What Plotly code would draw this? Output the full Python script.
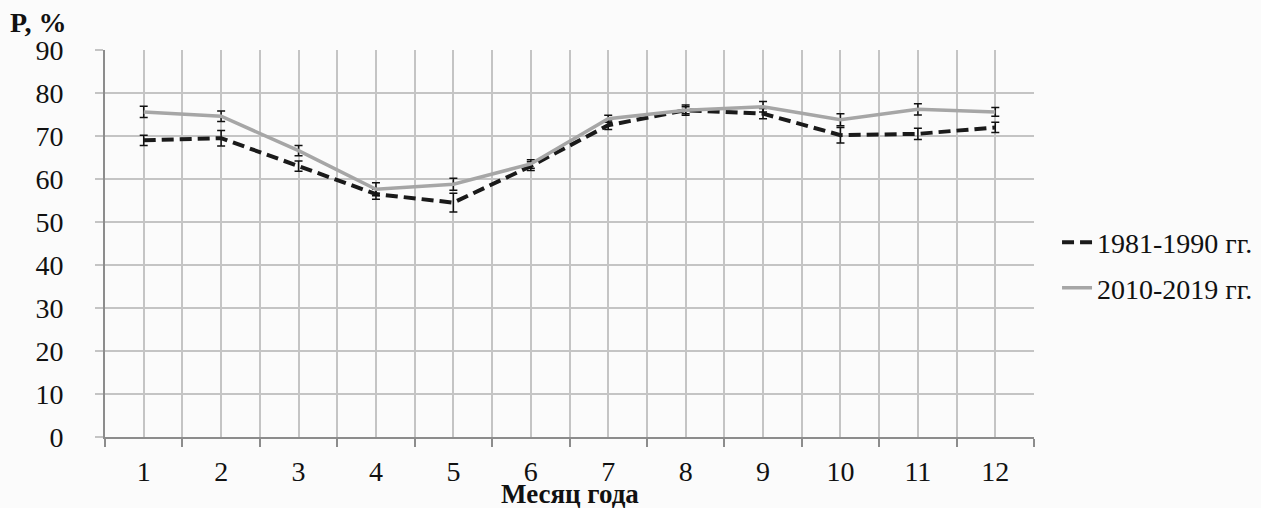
import plotly.graph_objects as go

months = list(range(1, 13))
month_labels = [str(m) for m in months]
s1_name = "1981-1990 гг."
s1_vals = [69.0, 69.5, 63.0, 56.5, 54.5, 63.0, 72.5, 76.0, 75.2, 70.2, 70.5, 72.0]
s1_err = [1.2, 1.8, 1.2, 1.2, 2.2, 1.0, 1.0, 1.2, 1.2, 1.8, 1.3, 1.2]
s2_name = "2010-2019 гг."
s2_vals = [75.6, 74.6, 66.6, 57.6, 58.8, 63.5, 74.0, 76.0, 76.8, 73.8, 76.2, 75.6]
s2_err = [1.3, 1.2, 1.2, 1.5, 1.4, 1.0, 0.8, 0.8, 1.2, 1.4, 1.3, 1.0]

FONT = "Liberation Serif, Times New Roman, serif"
FS = 28
fig = go.Figure()
fig.add_trace(go.Scatter(
    x=months, y=s1_vals, name=s1_name, mode="lines", legendgroup="a",
    line=dict(color="#1a1a1a", width=4, dash="12px,6px"),
    error_y=dict(type="data", array=s1_err, visible=True, color="#111", thickness=1.5, width=4),
))
fig.add_trace(go.Scatter(
    x=months, y=s2_vals, name=s2_name, mode="lines", legendgroup="b",
    line=dict(color="#a6a6a6", width=3.5),
    error_y=dict(type="data", array=s2_err, visible=True, color="#111", thickness=1.5, width=4),
))

grid_col = "#c4c4c4"
fig.update_layout(
    width=1261, height=508,
    margin=dict(l=105, r=227, t=50, b=71, autoexpand=False),
    paper_bgcolor="#fbfbfb", plot_bgcolor="#fbfbfb",
    font=dict(family=FONT, size=FS, color="#111"),
    showlegend=True,
    legend=dict(x=1.0248, xanchor="left", y=0.444, yanchor="middle",
                font=dict(family=FONT, size=FS, color="#111"),
                bgcolor="rgba(0,0,0,0)", traceorder="grouped", tracegroupgap=6),
    xaxis=dict(
        range=[0.5, 12.5], tickmode="array", tickvals=months, ticktext=month_labels,
        showgrid=True, gridcolor=grid_col, gridwidth=1.5, ticks="", ticklabelstandoff=8,
        showline=True, linecolor="#8c8c8c", linewidth=2, automargin=False,
        minor=dict(tick0=0.5, dtick=1, showgrid=True, gridcolor=grid_col, gridwidth=1.5,
                   ticks="outside", ticklen=8, tickcolor="#8c8c8c", tickwidth=2),
        zeroline=False,
    ),
    yaxis=dict(
        range=[0, 90], dtick=10, tick0=0,
        showgrid=True, gridcolor=grid_col, gridwidth=1.5,
        ticks="outside", ticklen=8, tickcolor=grid_col, tickwidth=1.5, ticklabelstandoff=26,
        showline=True, linecolor="#8c8c8c", linewidth=2, automargin=False,
        zeroline=False,
    ),
    annotations=[
        dict(text="<b>P, %</b>", xref="paper", yref="paper", x=-0.104, y=1.07,
             xanchor="left", yanchor="middle", showarrow=False,
             font=dict(family=FONT, size=FS, color="#111")),
        dict(text="<b>Месяц года</b>", xref="paper", yref="paper", x=0.5, y=-0.146,
             xanchor="center", yanchor="middle", showarrow=False,
             font=dict(family=FONT, size=27, color="#111")),
    ],
)
fig.write_html("out.html", config={"displayModeBar": False},
               post_script="document.body.style.margin='0';")
